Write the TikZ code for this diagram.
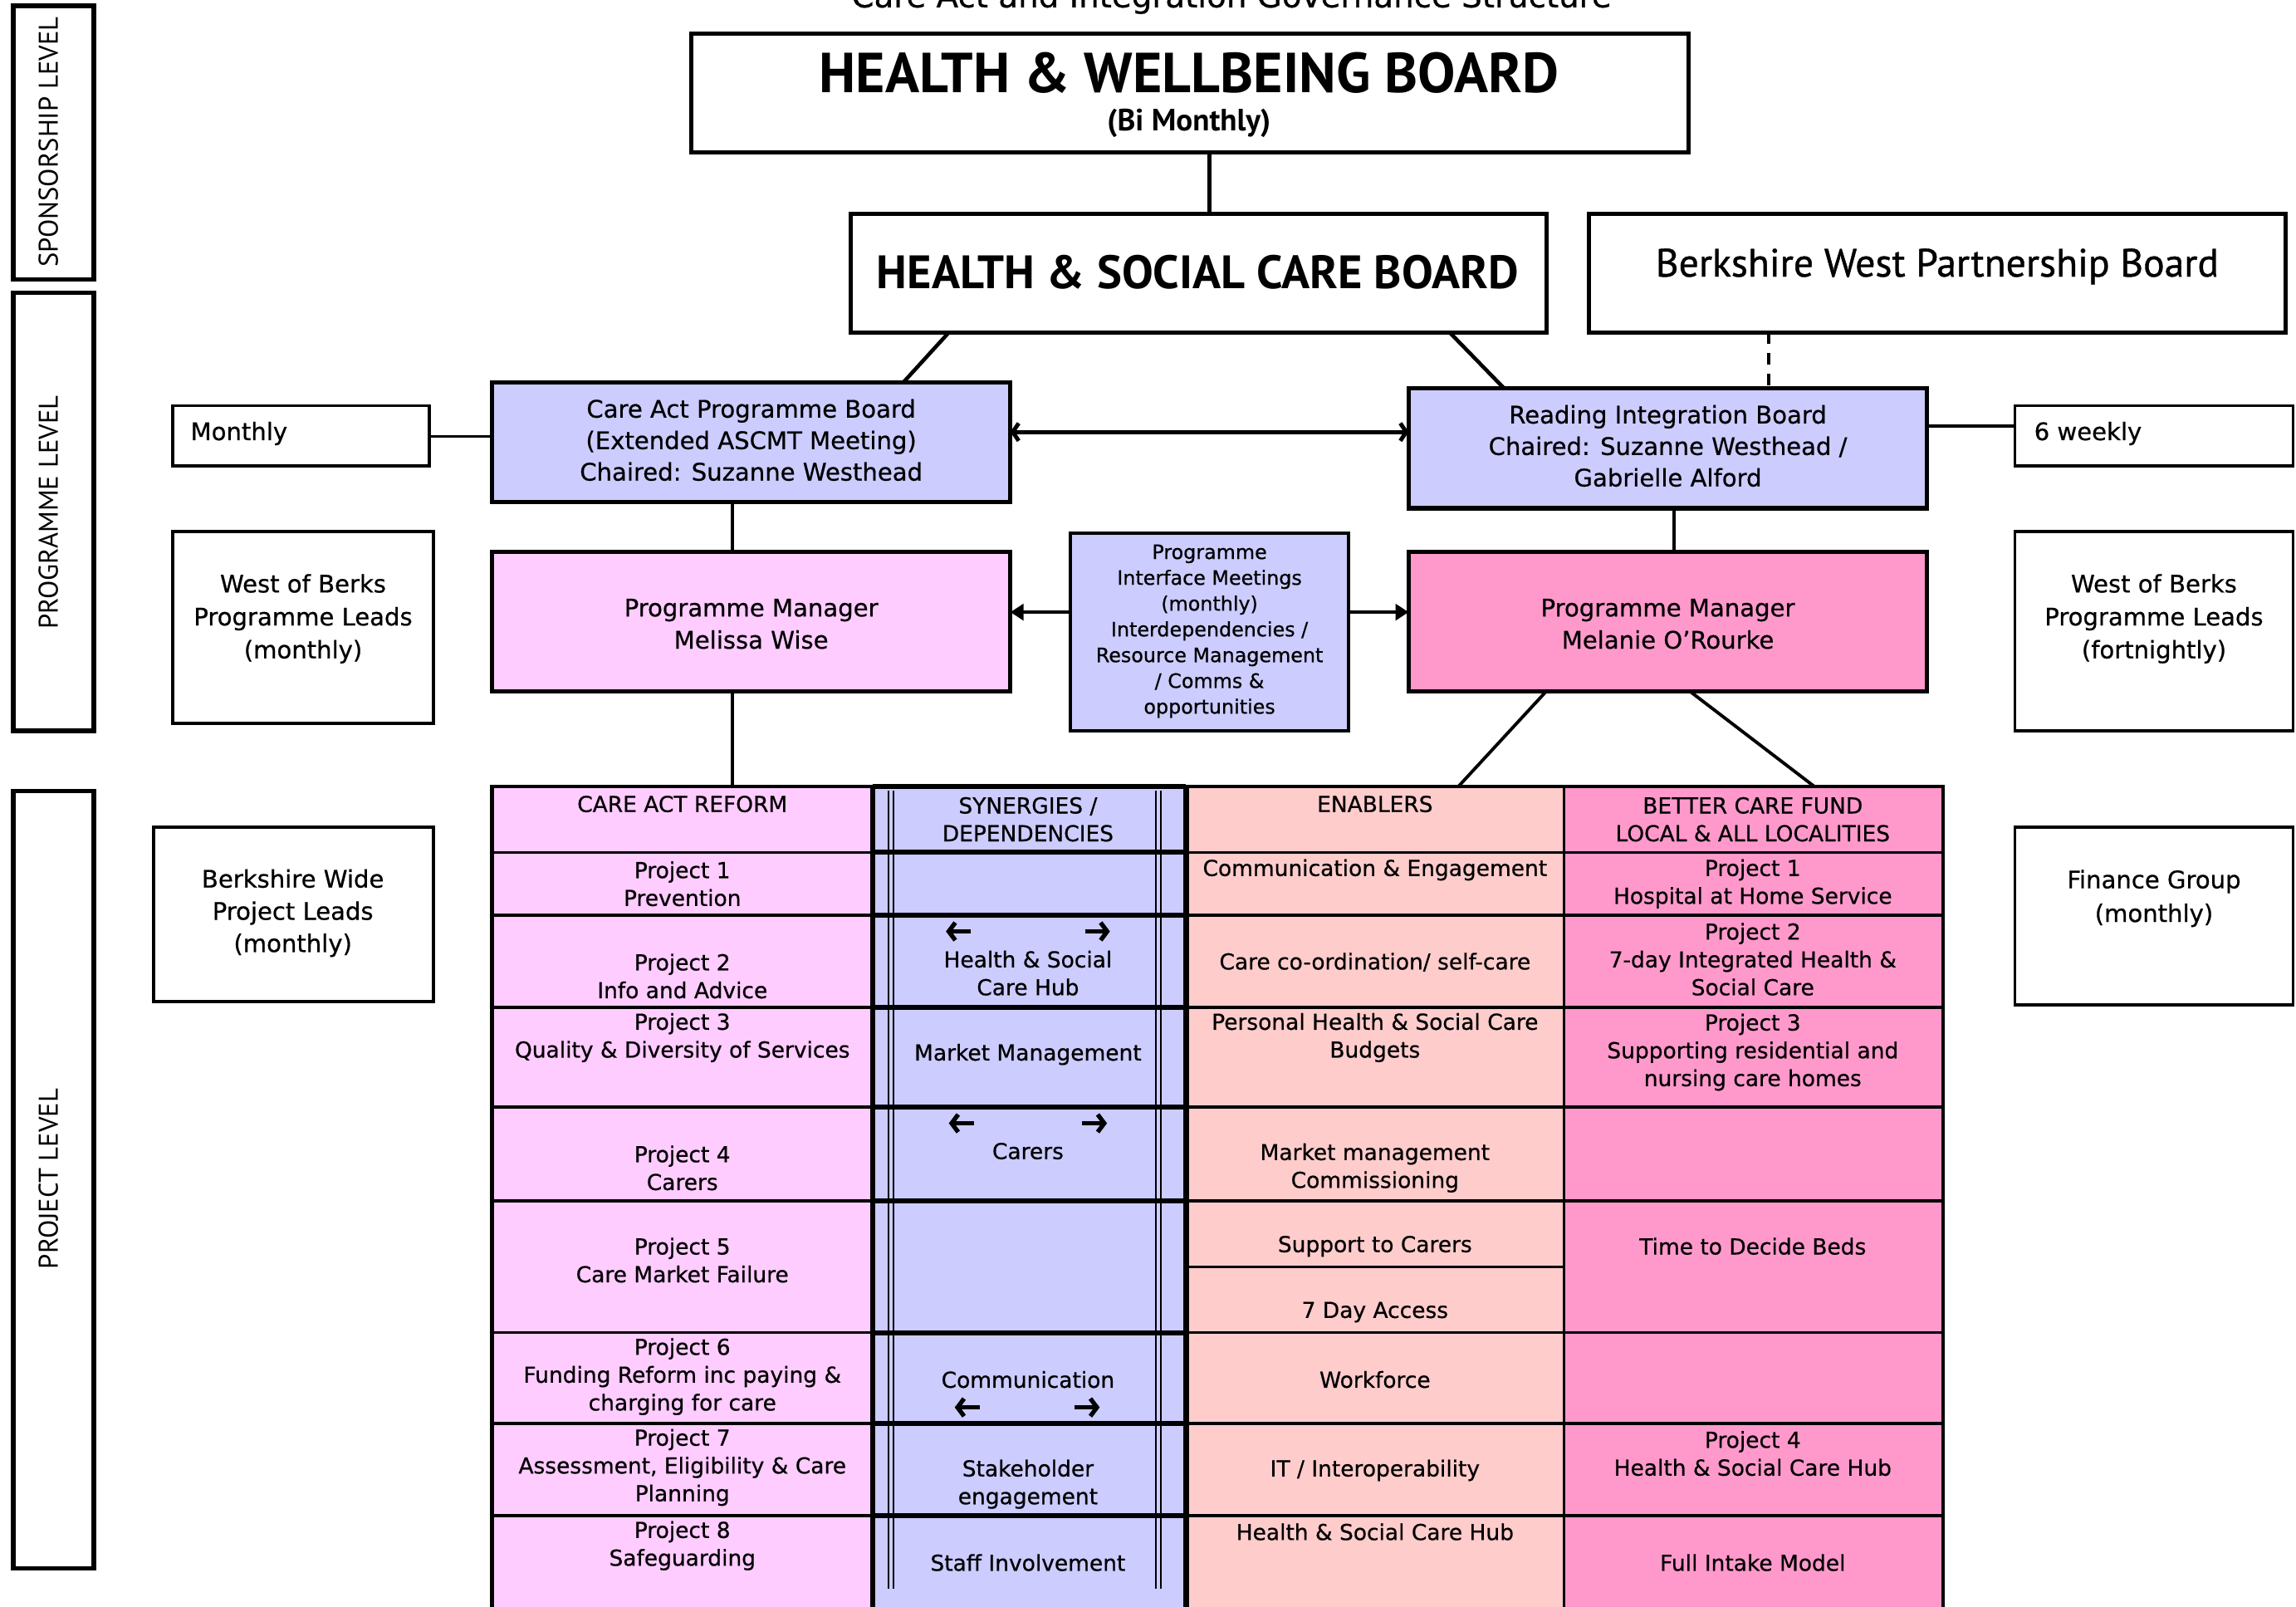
\documentclass[tikz,border=0pt]{standalone}
\usepackage{fontspec}
\setmainfont{DejaVu Sans}[FakeBold=0.6]
\newfontfamily\hdfont{PT Sans}
\usetikzlibrary{arrows.meta}
\definecolor{lav}{HTML}{CCCCFF}
\definecolor{lpink}{HTML}{FFCCFF}
\definecolor{salmon}{HTML}{FFCCCC}
\definecolor{dpink}{HTML}{FF99CC}
\newcommand\fs[2]{\fontsize{#1pt}{#2pt}\selectfont}
\newcommand\rbox[7]{\node[#6, minimum width={(#4)-(#2)}, minimum height={(#5)-(#3)}] (#1) at ({((#2)+(#4))/2},{((#3)+(#5))/2}) {#7};}
\newcommand\tn[4]{\node[txt] (#1) at (#2,#3) {#4};}
\tikzset{
  box/.style={draw=black, line width=3pt, inner sep=0pt, align=center},
  txt/.style={inner sep=0pt, align=center, font=\fs{15}{19}},
  conn/.style={line width=2.2pt},
  sarr/.style={line width=3pt, -{Straight Barb[length=4.5pt,width=12pt]}},
  bigarr/.style={line width=2.6pt, -{Triangle[length=9pt,width=11pt]}},
  tline/.style={line width=2pt},
  thline/.style={line width=3.2pt},
  lvltxt/.style={rotate=90, inner sep=0pt, font=\hdfont\fs{18.5}{20}},
}
\begin{document}
\begin{tikzpicture}[x=1pt,y=-1pt]
\useasboundingbox (0,0) rectangle (1568,1097);
\clip (0,0) rectangle (1568,1097);
\fill[white] (0,0) rectangle (1568,1097);

% title (cut at top, as in the reference)
\node[anchor=base, inner sep=0pt, font=\fs{22}{26}] (title) at (841,5) {Care Act and Integration Governance Structure};

% level boxes
\rbox{lvlA}{9}{4}{64}{191}{box}{}
\rbox{lvlB}{9}{200}{64}{499}{box}{}
\rbox{lvlC}{9}{540}{64}{1071}{box}{}
\node[lvltxt] (lvlAt) at (33,97) {SPONSORSHIP LEVEL};
\node[lvltxt] (lvlBt) at (33,350) {PROGRAMME LEVEL};
\node[lvltxt] (lvlCt) at (33,805) {PROJECT LEVEL};

% coordinates for connectors
\coordinate (hwbO) at (826,104);  \coordinate (hscbI) at (826,146);
\coordinate (hscbO1) at (648,227); \coordinate (capI) at (617,261);
\coordinate (hscbO2) at (990,227); \coordinate (ribI) at (1027,265);
\coordinate (bwpbO) at (1208,227); \coordinate (ribI2) at (1208,265);
\coordinate (capR) at (690,295); \coordinate (ribL) at (962,295);
\coordinate (monR) at (293,298); \coordinate (capL) at (336,298);
\coordinate (ribR) at (1316,291); \coordinate (sixL) at (1376,291);
\coordinate (capO) at (500,343); \coordinate (pmAI) at (500,377);
\coordinate (ribO) at (1143,347); \coordinate (pmBI) at (1143,377);
\coordinate (pimL) at (731,418); \coordinate (pmAR) at (690,418);
\coordinate (pimR) at (921,418); \coordinate (pmBL) at (962,418);
\coordinate (pmAO) at (500,472); \coordinate (tabA) at (500,537);
\coordinate (pmBO1) at (1056,472); \coordinate (tabC) at (996,537);
\coordinate (pmBO2) at (1154,472); \coordinate (tabD) at (1239,537);

% connectors
\draw[conn, line width=3pt] (hwbO) -- (hscbI);
\draw[conn, line width=2.6pt] (hscbO1) -- (capI);
\draw[conn, line width=2.6pt] (hscbO2) -- (ribI);
\draw[conn, dashed, dash pattern=on 8pt off 6pt] (bwpbO) -- (ribI2);
\draw[conn, line width=2.8pt, {Straight Barb[length=4pt,width=12pt]}-{Straight Barb[length=4pt,width=12pt]}] (capR) -- (ribL);
\draw[conn] (monR) -- (capL);
\draw[conn] (ribR) -- (sixL);
\draw[conn] (capO) -- (pmAI);
\draw[conn] (ribO) -- (pmBI);
\draw[bigarr] (pimL) -- (pmAR);
\draw[bigarr] (pimR) -- (pmBL);
\draw[conn] (pmAO) -- (tabA);
\draw[conn] (pmBO1) -- (tabC);
\draw[conn] (pmBO2) -- (tabD);

% top boards
\rbox{hwb}{472}{23}{1153}{104}{box, fill=white}{}
\node[inner sep=0pt, font=\hdfont\bfseries\fs{38.5}{40}] (hwbT) at (812,50) {HEALTH \& WELLBEING BOARD};
\node[inner sep=0pt, font=\hdfont\bfseries\fs{21}{22}] (hwbS) at (812,84) {(Bi Monthly)};
\rbox{hscb}{581}{146}{1056}{227}{box, fill=white}{}
\node[inner sep=0pt, font=\hdfont\bfseries\fs{32}{34}] (hscbT) at (818,186) {HEALTH \& SOCIAL CARE BOARD};
\rbox{bwpb}{1085}{146}{1561}{227}{box, fill=white}{}
\node[inner sep=0pt, font=\hdfont\fs{27}{28}\addfontfeature{FakeBold=0.8}] (bwpbT) at (1323,182) {Berkshire West Partnership Board};

% programme boards
\rbox{cap}{336}{261}{690}{343}{box, fill=lav}{}
\node[txt, font=\fs{16.5}{21.5}] (capT) at (513,300.5) {Care Act Programme Board\\(Extended ASCMT Meeting)\\Chaired: Suzanne Westhead};
\rbox{rib}{962}{265}{1316}{347}{box, fill=lav}{}
\node[txt, font=\fs{16.5}{21.5}] (ribT) at (1139,304.5) {Reading Integration Board\\Chaired: Suzanne Westhead /\\Gabrielle Alford};
\rbox{mon}{118}{277}{293}{318}{box, line width=2.2pt, fill=white}{}
\node[txt, anchor=west, font=\fs{16.5}{20}] (monT) at (130,296) {Monthly};
\rbox{six}{1376}{277}{1566}{318}{box, line width=2.2pt, fill=white}{}
\node[txt, anchor=west, font=\fs{16.5}{20}] (sixT) at (1389,296) {6 weekly};

% programme managers
\rbox{pmA}{336}{377}{690}{472}{box, fill=lpink}{}
\node[txt, font=\fs{16.5}{22}] (pmAT) at (513,426) {Programme Manager\\Melissa Wise};
\rbox{pmB}{962}{377}{1316}{472}{box, fill=dpink}{}
\node[txt, font=\fs{16.5}{22}] (pmBT) at (1139,426) {Programme Manager\\Melanie O’Rourke};
\rbox{pim}{731}{364}{921}{499}{box, line width=2.2pt, fill=lav}{}
\node[txt, font=\fs{13.5}{17.6}] (pimT) at (826,431) {Programme\\Interface Meetings\\(monthly)\\Interdependencies /\\Resource Management\\/ Comms \&\\opportunities};

% side boxes
\rbox{wobA}{118}{363}{296}{494}{box, line width=2.2pt, fill=white}{}
\node[txt, font=\fs{16.5}{22.5}] (wobAT) at (207,422.5) {West of Berks\\Programme Leads\\(monthly)};
\rbox{wobB}{1376}{363}{1566}{499}{box, line width=2.2pt, fill=white}{}
\node[txt, font=\fs{16.5}{22.5}] (wobBT) at (1471,422.5) {West of Berks\\Programme Leads\\(fortnightly)};
\rbox{bwide}{105}{565}{296}{684}{box, line width=2.2pt, fill=white}{}
\node[txt, font=\fs{16.5}{22}] (bwideT) at (200,623.5) {Berkshire Wide\\Project Leads\\(monthly)};
\rbox{fin}{1376}{565}{1566}{686}{box, line width=2.2pt, fill=white}{}
\node[txt, font=\fs{16.5}{23}] (finT) at (1471,613.5) {Finance Group\\(monthly)};

% ---------- table ----------
\fill[lpink] (336,537) rectangle (596,1100);
\fill[lav] (596,537) rectangle (810,1100);
\fill[salmon] (810,537) rectangle (1068,1100);
\fill[dpink] (1068,537) rectangle (1327,1100);
% inner double lines of synergies column
\foreach \xx in {606.9,610.3,789.4,792.8} \draw[line width=1.1pt] (\xx,540) -- (\xx,1085);
% horizontal lines
\foreach \yy in {582,625,688,756,820,910,972,1035} {
  \draw[tline] (336,\yy) -- (596,\yy);
  \draw[thline] (596,\yy) -- (810,\yy);
  \draw[tline] (810,\yy) -- (1327,\yy);
}
\draw[tline, line width=1.6pt] (810,865) -- (1068,865);
\draw[tline] (336,537) -- (596,537);
\draw[thline] (596,537) -- (810,537);
\draw[tline] (810,537) -- (1327,537);
% vertical lines
\draw[line width=3pt] (336,536) -- (336,1100);
\draw[line width=3.6pt] (596,536) -- (596,1100);
\draw[line width=3.6pt] (810,536) -- (810,1100);
\draw[tline] (1068,536) -- (1068,1100);
\draw[line width=2.6pt] (1327,536) -- (1327,1100);

% column 1
\tn{cAh}{466}{549}{CARE ACT REFORM}
\tn{cA1}{466}{603.5}{Project 1\\Prevention}
\tn{cA2}{466}{666.5}{Project 2\\Info and Advice}
\tn{cA3}{466}{708.5}{Project 3\\Quality \& Diversity of Services}
\tn{cA4}{466}{797.5}{Project 4\\Carers}
\tn{cA5}{466}{860.5}{Project 5\\Care Market Failure}
\tn{cA6}{466}{940}{Project 6\\Funding Reform inc paying \&\\charging for care}
\tn{cA7}{466}{1002}{Project 7\\Assessment, Eligibility \& Care\\Planning}
\tn{cA8}{466}{1055.5}{Project 8\\Safeguarding}
% column 2
\tn{cBh}{702}{559.5}{SYNERGIES /\\DEPENDENCIES}
\tn{cB2}{702}{664.5}{Health \& Social\\Care Hub}
\tn{cB3}{702}{720}{Market Management}
\tn{cB4}{702}{786}{Carers}
\tn{cB6}{702}{942}{Communication}
\tn{cB7}{702}{1013.5}{Stakeholder\\engagement}
\tn{cB8}{702}{1067}{Staff Involvement}
\draw[sarr] (663,636) -- (646,636);
\draw[sarr] (741,636) -- (758,636);
\draw[sarr] (665,767) -- (648,767);
\draw[sarr] (739,767) -- (756,767);
\draw[sarr] (669,961) -- (652,961);
\draw[sarr] (734,961) -- (751,961);
% column 3
\tn{cCh}{939}{549}{ENABLERS}
\tn{cC1}{939}{594}{Communication \& Engagement}
\tn{cC2}{939}{657}{Care co-ordination/ self-care}
\tn{cC3}{939}{708.5}{Personal Health \& Social Care\\Budgets}
\tn{cC4}{939}{797.5}{Market management\\Commissioning}
\tn{cC5}{939}{851}{Support to Carers}
\tn{cC5b}{939}{896}{7 Day Access}
\tn{cC6}{939}{942}{Workforce}
\tn{cC7}{939}{1004}{IT / Interoperability}
\tn{cC8}{939}{1046}{Health \& Social Care Hub}
% column 4
\tn{cDh}{1197}{559.5}{BETTER CARE FUND\\LOCAL \& ALL LOCALITIES}
\tn{cD1}{1197}{603.5}{Project 1\\Hospital at Home Service}
\tn{cD2}{1197}{655}{Project 2\\7-day Integrated Health \&\\Social Care}
\tn{cD3}{1197}{718.5}{Project 3\\Supporting residential and\\nursing care homes}
\tn{cD5}{1197}{851}{Time to Decide Beds}
\tn{cD7}{1197}{992.5}{Project 4\\Health \& Social Care Hub}
\tn{cD8}{1197}{1067}{Full Intake Model}
\end{tikzpicture}
\end{document}
